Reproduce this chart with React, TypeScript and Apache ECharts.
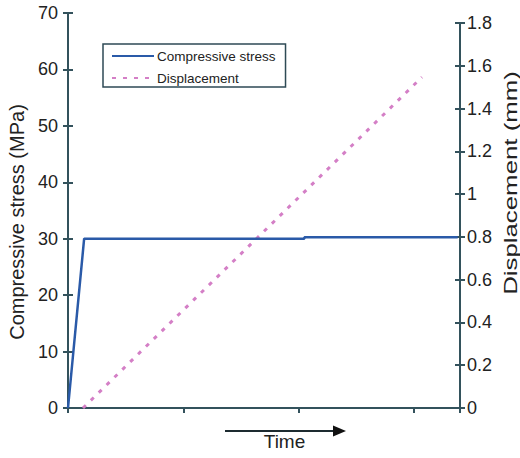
import React, { useEffect, useRef } from "react";
import * as echarts from "echarts";

const stressLabel = "Compressive stress";
const dispLabel = "Displacement";
// [time (arbitrary units), stress MPa]
const stressData: [number, number][] = [
  [0, 0],
  [0.14, 30],
  [2.05, 30],
  [2.05, 30.25],
  [3.38, 30.25],
];
// [time, displacement mm]
const dispData: [number, number][] = [
  [0.13, 0],
  [3.07, 1.547],
];
const leftAxisName = "Compressive stress (MPa)";
const rightAxisName = "Displacement (mm)";
const xAxisName = "Time";

const FONT = "'Liberation Sans', Arial, Helvetica, sans-serif";
const AXIS = "#33525c";

export default function App() {
  const ref = useRef<HTMLDivElement>(null);
  useEffect(() => {
    document.body.style.margin = "0";
    const chart = echarts.init(ref.current!, undefined, { renderer: "svg" });
    const tickIn = {
      show: true,
      inside: true,
      length: 5,
      lineStyle: { color: AXIS, width: 2 },
    };
    const tickOut = {
      show: true,
      inside: false,
      length: 5,
      lineStyle: { color: AXIS, width: 2 },
    };
    const axisLine = { show: true, onZero: false, lineStyle: { color: AXIS, width: 2 } };
    chart.setOption({
      animation: false,
      backgroundColor: "#ffffff",
      textStyle: { fontFamily: FONT },
      grid: [
        { left: 68, right: 60, top: 13, bottom: 50, containLabel: false, outerBoundsMode: "none" },
        { left: 68, right: 60, top: 23, bottom: 50, containLabel: false, outerBoundsMode: "none" },
      ],
      legend: {
        orient: "vertical",
        left: 103,
        top: 44,
        padding: [5, 10, 2, 8],
        itemGap: 8,
        itemWidth: 42,
        itemHeight: 14,
        borderColor: "#2e4a55",
        borderWidth: 1.5,
        itemStyle: { opacity: 0 },
        textStyle: { fontSize: 13.5, color: "#222", fontFamily: FONT, padding: [0, 0, 0, -2] },
        data: [stressLabel, dispLabel],
      },
      xAxis: [
        {
          type: "value",
          gridIndex: 0,
          min: 0,
          max: 3.4,
          interval: 1,
          axisLine,
          axisTick: tickOut,
          axisLabel: { show: false },
          splitLine: { show: false },
          name: xAxisName,
          nameLocation: "middle",
          nameGap: 24,
          nameTextStyle: {
            fontSize: 19,
            color: "#222",
            fontFamily: FONT,
            padding: [0, 0, 0, 41],
          },
        },
        {
          type: "value",
          gridIndex: 1,
          min: 0,
          max: 3.4,
          interval: 1,
          show: false,
        },
      ],
      yAxis: [
        {
          type: "value",
          gridIndex: 0,
          position: "left",
          min: 0,
          max: 70,
          interval: 10,
          axisLine,
          axisTick: tickOut,
          axisLabel: { fontSize: 18, color: "#222", margin: 10, fontFamily: FONT },
          splitLine: { show: false },
          name: leftAxisName,
          nameLocation: "middle",
          nameRotate: 90,
          nameGap: 40,
          nameTextStyle: {
            fontSize: 20,
            color: "#222",
            fontFamily: FONT,
            padding: [0, 23, 0, 0],
          },
        },
        {
          type: "value",
          gridIndex: 0,
          position: "left",
          min: 0,
          max: 70,
          interval: 10,
          axisLine: { show: false, onZero: false },
          axisTick: tickIn,
          axisLabel: { show: false },
          splitLine: { show: false },
        },
        {
          type: "value",
          gridIndex: 1,
          position: "right",
          min: 0,
          max: 1.8,
          interval: 0.2,
          axisLine,
          axisTick: tickOut,
          axisLabel: { fontSize: 18, color: "#222", margin: 7, fontFamily: FONT },
          splitLine: { show: false },
        },
        {
          type: "value",
          gridIndex: 1,
          position: "right",
          min: 0,
          max: 1.8,
          interval: 0.2,
          axisLine: { show: false, onZero: false },
          axisTick: tickIn,
          axisLabel: { show: false },
          splitLine: { show: false },
        },
      ],
      series: [
        {
          name: stressLabel,
          type: "line",
          xAxisIndex: 0,
          yAxisIndex: 0,
          data: stressData,
          symbol: "none",
          lineStyle: { color: "#2a5aa8", width: 2.5 },
          itemStyle: { color: "#2a5aa8" },
          z: 3,
        },
        {
          name: dispLabel,
          type: "line",
          xAxisIndex: 1,
          yAxisIndex: 2,
          data: dispData,
          symbol: "none",
          lineStyle: { color: "#d47fc6", width: 3, type: [4, 7] },
          itemStyle: { color: "#d47fc6" },
          z: 2,
        },
      ],
      graphic: [
        {
          type: "text",
          x: 510,
          y: 183,
          rotation: Math.PI / 2,
          scaleX: 1.36,
          scaleY: 1,
          style: {
            text: rightAxisName,
            fontSize: 19,
            fontFamily: FONT,
            fill: "#222",
            align: "center",
            verticalAlign: "middle",
          },
        },
        {
          type: "line",
          shape: { x1: 225, y1: 431, x2: 336, y2: 431 },
          style: { stroke: "#1d2b30", lineWidth: 2 },
        },
        {
          type: "polygon",
          shape: { points: [[333, 425.5], [346, 431], [333, 436.5]] },
          style: { fill: "#111" },
        },
      ],
    });
    return () => chart.dispose();
  }, []);
  return <div ref={ref} style={{ width: 520, height: 458 }} />;
}
